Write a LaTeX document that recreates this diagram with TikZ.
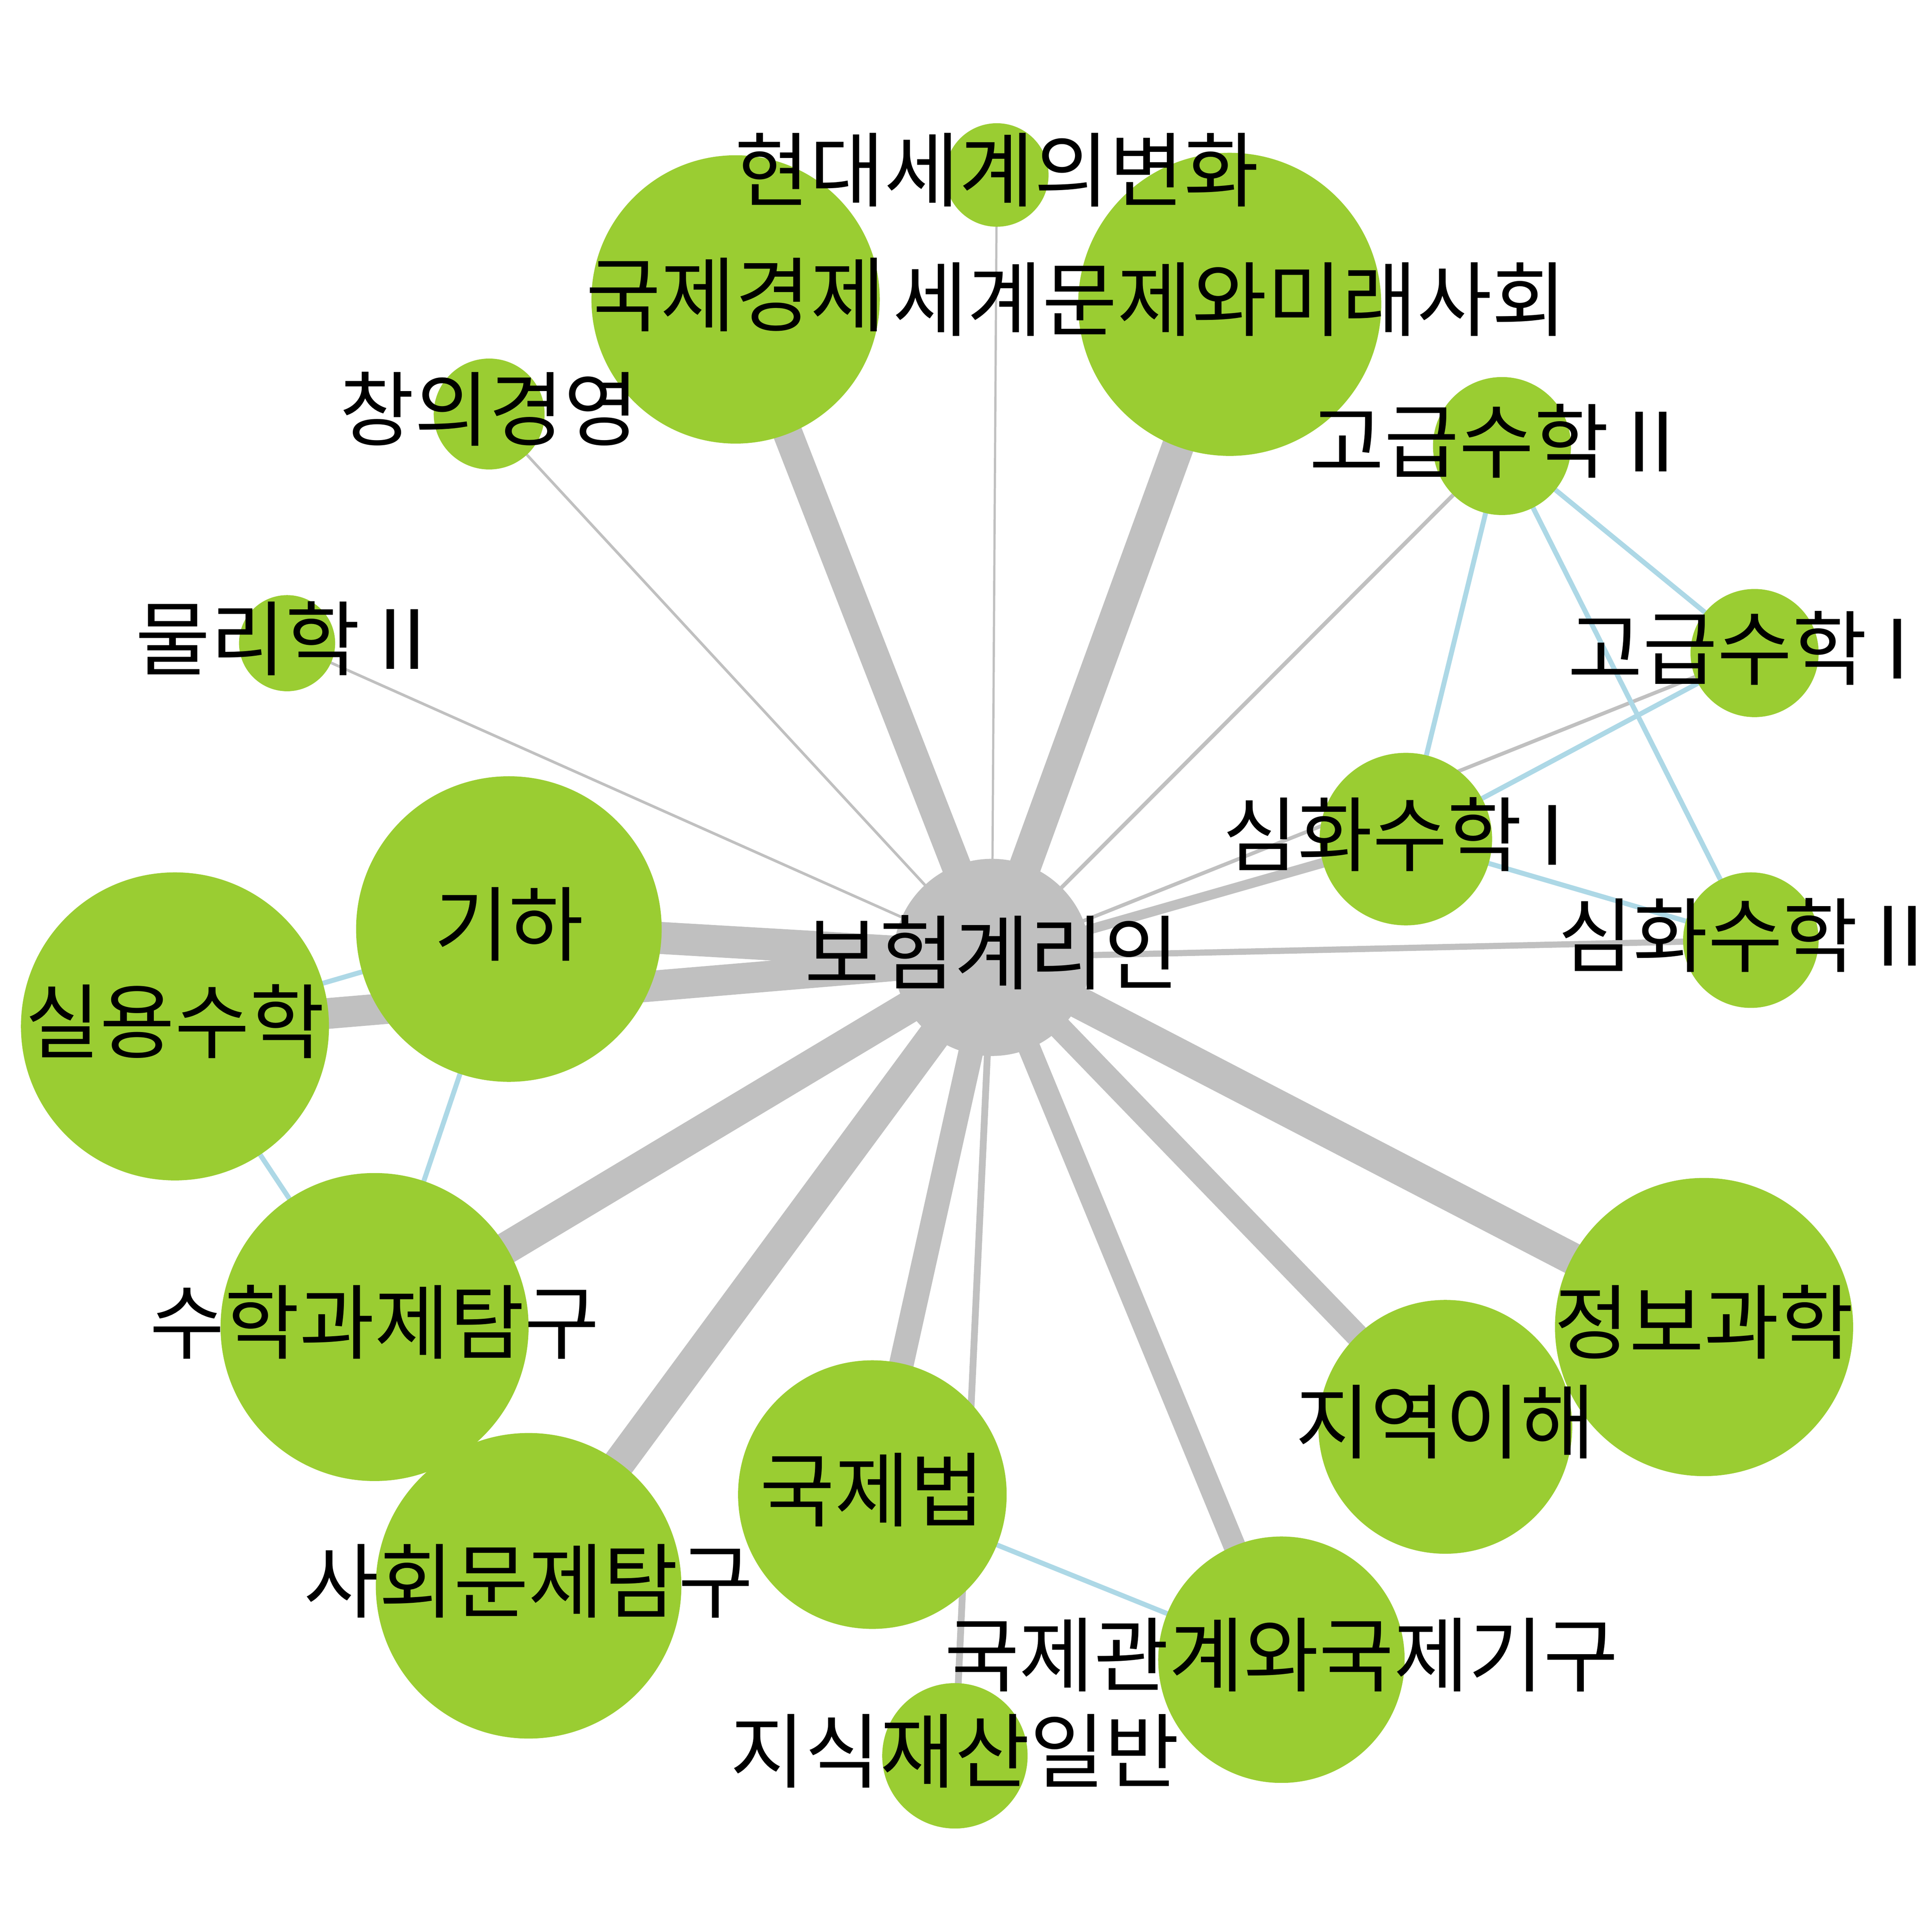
\documentclass[tikz,border=0pt]{standalone}
\usepackage{fontspec}
\setmainfont{Noto Sans CJK KR}
\usepackage{tikz}
\usetikzlibrary{backgrounds}

\definecolor{bubblegreen}{HTML}{9ACD32}
\definecolor{linkgray}{HTML}{C0C0C0}
\definecolor{linkblue}{HTML}{ADD8E6}

\begin{document}
\begin{tikzpicture}[x=0.1mm, y=-0.1mm,
    course/.style={circle, fill=bubblegreen, inner sep=0pt, minimum size=0.2mm*#1},
    hub/.style={circle, fill=linkgray, inner sep=0pt, minimum size=0.2mm*#1},
    title/.style={font=\fontsize{18.8pt}{22pt}\selectfont, inner sep=0pt, yshift=0.4mm},
    link/.style={draw=linkgray, line width=0.1mm*#1},
    pair/.style={draw=linkblue, line width=0.4mm}]
    \useasboundingbox (0,0) rectangle (1568,1568);

    % Nodes
    \node [hub=80] (actuary) at (805,777) {};
    \node [course=42] (modern) at (809,142) {};
    \node [course=117] (econ) at (597,243) {};
    \node [course=123] (world) at (998,247) {};
    \node [course=45] (creative) at (397,336) {};
    \node [course=56] (adv2) at (1219,362) {};
    \node [course=39] (physics) at (233,522) {};
    \node [course=52] (adv1) at (1424,530) {};
    \node [course=70] (deep1) at (1141,681) {};
    \node [course=55] (deep2) at (1421,763) {};
    \node [course=124] (geo) at (413,754) {};
    \node [course=125] (applied) at (142,833) {};
    \node [course=125] (task) at (304,1077) {};
    \node [course=121] (info) at (1383,1077) {};
    \node [course=103] (region) at (1173,1158) {};
    \node [course=109] (law) at (708,1213) {};
    \node [course=124] (social) at (429,1287) {};
    \node [course=100] (relations) at (1040,1347) {};
    \node [course=59] (patent) at (775,1425) {};

    % Edges
    \begin{pgfonlayer}{background}
    \draw [link=1.8] (actuary.center) -- (modern.center);
    \draw [link=24] (actuary.center) -- (econ.center);
    \draw [link=26] (actuary.center) -- (world.center);
    \draw [link=2.2] (actuary.center) -- (creative.center);
    \draw [link=3.2] (actuary.center) -- (adv2.center);
    \draw [link=2.2] (actuary.center) -- (physics.center);
    \draw [link=3] (actuary.center) -- (adv1.center);
    \draw [link=8] (actuary.center) -- (deep1.center);
    \draw [link=5] (actuary.center) -- (deep2.center);
    \draw [link=26] (actuary.center) -- (geo.center);
    \draw [link=25] (actuary.center) -- (applied.center);
    \draw [link=26] (actuary.center) -- (task.center);
    \draw [link=26] (actuary.center) -- (social.center);
    \draw [link=20] (actuary.center) -- (law.center);
    \draw [link=5.5] (actuary.center) -- (patent.center);
    \draw [link=18] (actuary.center) -- (relations.center);
    \draw [link=19] (actuary.center) -- (region.center);
    \draw [link=26] (actuary.center) -- (info.center);

    \draw [pair] (applied.center) -- (geo.center);
    \draw [pair] (applied.center) -- (task.center);
    \draw [pair] (geo.center) -- (task.center);
    \draw [pair] (adv2.center) -- (adv1.center);
    \draw [pair] (adv2.center) -- (deep1.center);
    \draw [pair] (adv2.center) -- (deep2.center);
    \draw [pair] (adv1.center) -- (deep1.center);
    \draw [pair] (deep1.center) -- (deep2.center);
    \draw [pair] (law.center) -- (relations.center);
    \end{pgfonlayer}

    % Labels
    \node [title] (t-actuary) at (actuary) {보험계리인};
    \node [title] (t-modern) at (modern) {현대세계의변화};
    \node [title] (t-econ) at (econ) {국제경제};
    \node [title] (t-world) at (world) {세계문제와미래사회};
    \node [title] (t-creative) at (creative) {창의경영};
    \node [title, xshift=-0.8mm] (t-adv2) at (adv2) {고급수학 II};
    \node [title, xshift=-0.5mm] (t-physics) at (physics) {물리학 II};
    \node [title, xshift=-1.3mm] (t-adv1) at (adv1) {고급수학 I};
    \node [title, xshift=-1mm] (t-deep1) at (deep1) {심화수학 I};
    \node [title, xshift=-0.8mm] (t-deep2) at (deep2) {심화수학 II};
    \node [title] (t-geo) at (geo) {기하};
    \node [title] (t-applied) at (applied) {실용수학};
    \node [title] (t-task) at (task) {수학과제탐구};
    \node [title] (t-info) at (info) {정보과학};
    \node [title] (t-region) at (region) {지역이해};
    \node [title] (t-law) at (law) {국제법};
    \node [title] (t-social) at (social) {사회문제탐구};
    \node [title] (t-relations) at (relations) {국제관계와국제기구};
    \node [title] (t-patent) at (patent) {지식재산일반};
\end{tikzpicture}
\end{document}
